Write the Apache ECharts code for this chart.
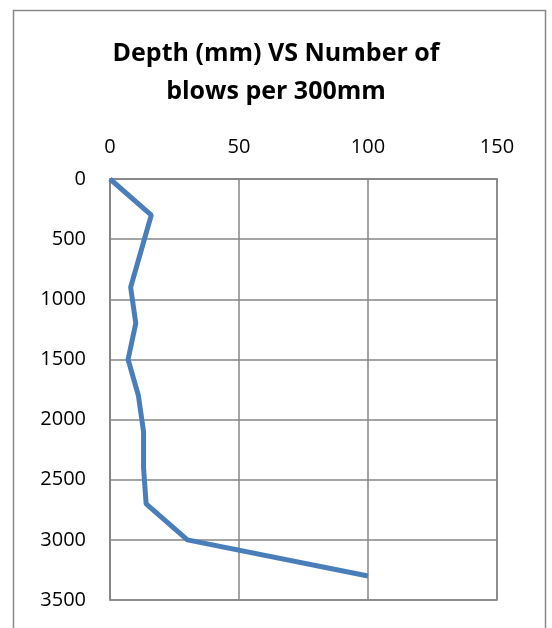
<!DOCTYPE html>
<html><head><meta charset="utf-8">
<script src="https://cdn.jsdelivr.net/npm/echarts@6/dist/echarts.min.js"></script>
<style>html,body{margin:0;padding:0;background:#fff;}#c{width:552px;height:628px;}</style>
</head><body><div id="c"></div>
<script>
const titleText = "Depth (mm) VS Number of\nblows per 300mm";
const blows = [0, 16, 8, 10, 7, 11, 13, 13, 14, 30, 100];
const depths = [0, 300, 900, 1200, 1500, 1800, 2100, 2400, 2700, 3000, 3300];
const xTicks = {min: 0, max: 150, interval: 50};
const yTicks = {min: 0, max: 3500, interval: 500};

const chart = echarts.init(document.getElementById('c'), null, {renderer: 'canvas'});
const FONT = "'Open Sans', 'Liberation Sans', sans-serif";
chart.setOption({
  animation: false,
  backgroundColor: '#fff',
  title: {
    text: titleText, left: 'center', top: 30,
    textStyle: {fontFamily: FONT, fontWeight: 'bold', fontSize: 25, color: '#000', lineHeight: 38}
  },
  graphic: [{
    type: 'rect', shape: {x: 13.5, y: 10.5, width: 532, height: 640},
    style: {fill: 'none', stroke: '#888', lineWidth: 1.5}, silent: true, z: -1
  }],
  grid: {left: 110, right: 55, top: 179, bottom: 28, show: true, borderColor: '#868686', borderWidth: 1.5},
  xAxis: {
    type: 'value', position: 'top', min: xTicks.min, max: xTicks.max, interval: xTicks.interval,
    axisLine: {show: true, lineStyle: {color: '#868686', width: 1.5}},
    axisTick: {show: false},
    axisLabel: {fontFamily: FONT, fontSize: 20, color: '#000', margin: 22},
    splitLine: {show: true, lineStyle: {color: '#868686', width: 1.5}}
  },
  yAxis: {
    type: 'value', inverse: true, min: yTicks.min, max: yTicks.max, interval: yTicks.interval,
    axisLine: {show: true, lineStyle: {color: '#868686', width: 1.5}},
    axisTick: {show: false},
    axisLabel: {fontFamily: FONT, fontSize: 20, color: '#000', margin: 24, formatter: v => String(v)},
    splitLine: {show: true, lineStyle: {color: '#868686', width: 1.5}}
  },
  series: [{
    type: 'line',
    data: blows.map((b, i) => [b, depths[i]]),
    symbol: 'none',
    lineStyle: {color: '#4a7ebb', width: 5},
    itemStyle: {color: '#4a7ebb'}
  }]
});
</script></body></html>
